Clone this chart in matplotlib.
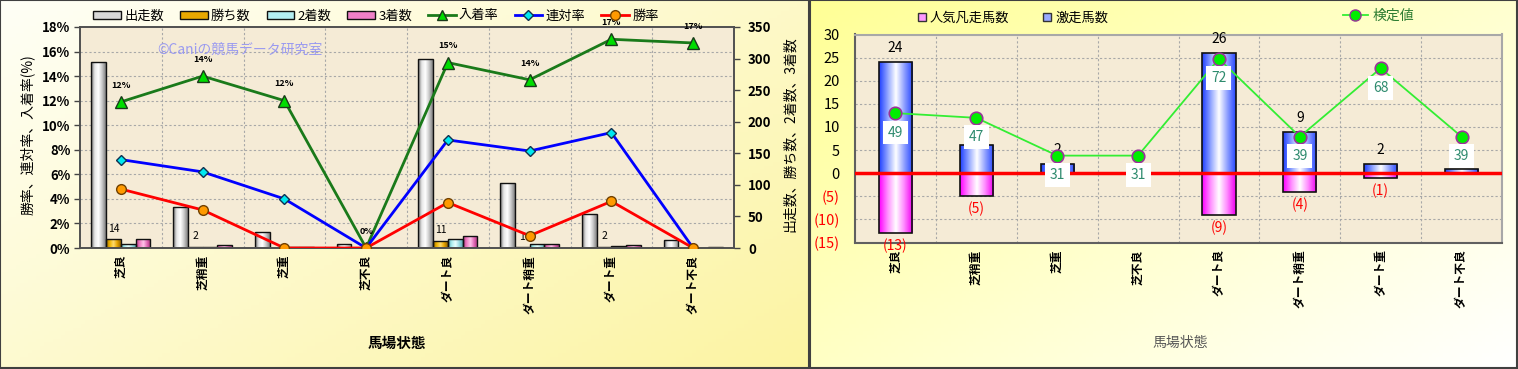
import numpy as np
import matplotlib
matplotlib.use('Agg')
import matplotlib.pyplot as plt
from matplotlib.colors import LinearSegmentedColormap
from matplotlib.patches import Patch
from matplotlib.lines import Line2D

plt.rcParams['font.family'] = ['Noto Sans CJK JP', 'DejaVu Sans']

# ---- data ----
categories = ['芝良', '芝稍重', '芝重', '芝不良', 'ダート良', 'ダート稍重', 'ダート重', 'ダート不良']
starts = [295, 65, 25, 6, 300, 103, 54, 12]
wins = [14, 2, 0, 0, 11, 1, 2, 0]
seconds = [7, 2, 1, 0, 15, 7, 3, 0]
thirds = [14, 5, 2, 0, 19, 6, 4, 2]
win_rate = [4.8, 3.1, 0.0, 0.0, 3.7, 1.0, 3.8, 0.0]
rentai_rate = [7.2, 6.2, 4.0, 0.0, 8.8, 7.9, 9.4, 0.0]
place_rate = [11.9, 14.0, 12.0, 0.0, 15.1, 13.7, 17.0, 16.7]

gekiso = [24, 6, 2, 0, 26, 9, 2, 1]          # 激走馬数
bonso = [-13, -5, 0, 0, -9, -4, -1, 0]       # 人気凡走馬数
kentei = [49, 47, 31, 31, 72, 39, 68, 39]    # 検定値

W, H = 1518, 369


def fx(px):
    return px / W


def fy(py):
    return 1 - py / H


def ax_rect(l, t, r, b):
    return [fx(l), fy(b), fx(r) - fx(l), fy(t) - fy(b)]


def panel_bg(l, r, c0, c1):
    bg = fig.add_axes(ax_rect(l, 0, r, H - 1), zorder=-10)
    yy, xx = np.mgrid[0:1:100j, 0:1:200j]
    t = xx * 0.55 + yy * 0.45
    cmap = LinearSegmentedColormap.from_list('bg', [c0, c1])
    bg.imshow(t, cmap=cmap, aspect='auto', extent=(0, 1, 0, 1), origin='upper')
    bg.set_xticks([])
    bg.set_yticks([])
    for s in bg.spines.values():
        s.set_color('#404040')
        s.set_linewidth(1.5)
    return bg


def shade_bars(ax, bars, cols):
    cmap = LinearSegmentedColormap.from_list('g', cols)
    grad = np.linspace(0, 1, 64).reshape(1, -1)
    for b in bars:
        x0, y0 = b.get_x(), b.get_y()
        w, h = b.get_width(), b.get_height()
        if h == 0:
            continue
        im = ax.imshow(grad, cmap=cmap, extent=(x0, x0 + w, y0, y0 + h),
                       aspect='auto', zorder=2.1)
        im.set_clip_path(b)


fig = plt.figure(figsize=(W / 100, H / 100), dpi=100)
panel_bg(0, 809, '#fffff6', '#fcf4a2')
panel_bg(810, 1517, '#ffff96', '#ffffff')

x = np.arange(len(categories))
grid_kw = dict(color='#a8a8a8', lw=0.8, ls=(0, (2, 2)), zorder=0.5)

# ================= left chart =================
axc = fig.add_axes(ax_rect(80, 27, 734, 248))
axc.set_facecolor('#f5ebd6')
axr = axc.twinx()
axc.yaxis.tick_right()
axr.yaxis.tick_left()

bw = 0.18
series = [(starts, ['#707070', '#e6e6e6', '#ffffff', '#c8c8c8', '#808080']),
          (wins, ['#a06c00', '#f0b400', '#ffdc70', '#e6a400', '#946400']),
          (seconds, ['#58aab4', '#aeeef0', '#eaffff', '#9cdce4', '#58a8b0']),
          (thirds, ['#b83888', '#f080c4', '#ffc4ea', '#e068b4', '#a8307c'])]
win_bars = None
for k, (vals, cols) in enumerate(series):
    off = (k - 1.5) * bw
    bars = axc.bar(x + off, vals, bw, color=cols[1], zorder=2)
    shade_bars(axc, bars, cols)
    axc.bar(x + off, vals, bw, fill=False, edgecolor='#111111', lw=1, zorder=2.2)
    if k == 1:
        win_bars = bars

for b, v in zip(win_bars, wins):
    if v:
        axc.annotate(str(v), (b.get_x() + b.get_width() / 2, v), xytext=(0, 4),
                     textcoords='offset points', ha='center', va='bottom', fontsize=7.5)

for r in range(2, 18, 2):
    axc.axhline(r * 350 / 18, **grid_kw)
for i in range(len(categories) - 1):
    axc.axvline(i + 0.5, **grid_kw)

axc.set_xlim(-0.5, len(categories) - 0.5)
axc.set_ylim(0, 350)
axc.set_yticks(range(0, 351, 50))
axc.set_yticklabels([str(v) for v in range(0, 351, 50)], fontsize=9.5, fontweight='bold')
axc.set_xticks(x)
axc.set_xticklabels(categories, rotation=90, fontsize=8.5, fontweight='bold', va='top')
axc.tick_params(axis='x', length=0, pad=5)
axc.tick_params(axis='y', length=4, width=1, color='#444444', pad=6)

axr.plot(x, place_rate, color='#1a7a1a', lw=2, marker='^', ms=8,
         mfc='#00dd00', mec='#1a3a1a', mew=1, zorder=3)
axr.plot(x, rentai_rate, color='#0000ff', lw=2, marker='D', ms=5.5,
         mfc='#00e8f0', mec='#103050', mew=1, zorder=4)
axr.plot(x, win_rate, color='#ff0000', lw=2, marker='o', ms=7,
         mfc='#ff9a00', mec='#704000', mew=1, zorder=5)
for i, v in enumerate(place_rate):
    axr.annotate(f'{round(v)}%', (i, v), xytext=(0, 12), textcoords='offset points',
                 ha='center', va='center', fontsize=6.5, fontweight='bold')
axr.set_ylim(0, 18)
axr.set_yticks(range(0, 19, 2))
axr.set_yticklabels([f'{v}%' for v in range(0, 19, 2)], fontsize=9.5, fontweight='bold')
axr.tick_params(axis='y', length=4, width=1, color='#444444', pad=3)
for a in (axc, axr):
    for s in a.spines.values():
        s.set_color('#505050')
        s.set_linewidth(1.2)

fig.text(fx(157), fy(50), '©Caniの競馬データ研究室', color='#9a9af0', fontsize=10,
         ha='left', va='center')
fig.text(fx(27), fy(135), '勝率、連対率、入着率(%)', rotation=90, fontsize=10,
         ha='center', va='center')
fig.text(fx(790), fy(134), '出走数、勝ち数、2着数、3着数', rotation=90, fontsize=10,
         ha='center', va='center')
fig.text(fx(397), fy(343), '馬場状態', fontsize=10.5, fontweight='bold',
         ha='center', va='center')

left_handles = [Patch(fc='#d8d8d8', ec='#111111'), Patch(fc='#e8a800', ec='#111111'),
                Patch(fc='#b4eef2', ec='#111111'), Patch(fc='#f080c8', ec='#111111'),
                Line2D([], [], color='#1a7a1a', lw=2, marker='^', ms=7, mfc='#00dd00', mec='#1a3a1a'),
                Line2D([], [], color='#0000ff', lw=2, marker='D', ms=5, mfc='#00e8f0', mec='#103050'),
                Line2D([], [], color='#ff0000', lw=2, marker='o', ms=7, mfc='#ff9a00', mec='#704000')]
left_labels = ['出走数', '勝ち数', '2着数', '3着数', '入着率', '連対率', '勝率']
fig.legend(left_handles, left_labels, loc='center', bbox_to_anchor=(fx(376), fy(16)),
           ncol=7, frameon=False, fontsize=9.5, handlelength=2.1, handleheight=0.55,
           handletextpad=0.25, columnspacing=1.2, borderpad=0)

# ================= right chart =================
axR = fig.add_axes(ax_rect(855, 34.5, 1502, 242.5))
axR.set_facecolor('#f5ebd6')
bw2 = 0.41
b_pos = axR.bar(x, gekiso, bw2, color='#8899ff', zorder=2)
shade_bars(axR, b_pos, ['#2040ff', '#90a4ff', '#ffffff', '#90a0ff', '#2848ff'])
axR.bar(x, gekiso, bw2, fill=False, edgecolor='#111111', lw=1.2, zorder=2.2)
b_neg = axR.bar(x, bonso, bw2, color='#ff88ff', zorder=2)
shade_bars(axR, b_neg, ['#ff00ff', '#ff90ff', '#ffffff', '#ff88ff', '#f000f0'])
axR.bar(x, bonso, bw2, fill=False, edgecolor='#111111', lw=1.2, zorder=2.2)

for i, v in enumerate(gekiso):
    if v:
        axR.annotate(str(v), (i, v), xytext=(0, 5), textcoords='offset points',
                     ha='center', va='bottom', fontsize=10, zorder=3)
for i, v in enumerate(bonso):
    if v:
        axR.annotate(f'({-v})', (i, v), xytext=(0, -4), textcoords='offset points',
                     ha='center', va='top', fontsize=10, color='#ff0000', zorder=3)

axR.axhline(0, color='#ff0000', lw=2.5, zorder=4)
for v in range(-10, 30, 5):
    if v != 0:
        axR.axhline(v, **grid_kw)
for i in range(len(categories) - 1):
    axR.axvline(i + 0.5, **grid_kw)

axR.set_xlim(-0.5, len(categories) - 0.5)
axR.set_ylim(-15, 30)
yt = list(range(-15, 31, 5))
axR.set_yticks(yt)
axR.set_yticklabels([f'({-v})' if v < 0 else str(v) for v in yt], fontsize=10.5)
for lab, v in zip(axR.get_yticklabels(), yt):
    if v < 0:
        lab.set_color('#ff0000')
axR.set_xticks(x)
axR.set_xticklabels(categories, rotation=90, fontsize=8.5, fontweight='bold', va='top')
axR.tick_params(axis='x', length=0, pad=5)
axR.tick_params(axis='y', length=0, pad=11)
for side, s in axR.spines.items():
    s.set_linewidth(1.5)
    s.set_color('#606060' if side in ('left', 'bottom') else '#a8a8a8')

axK = axR.twinx()
axK.set_ylim(-5.8, 82.3)
axK.set_yticks([])
for s in axK.spines.values():
    s.set_visible(False)
axK.plot(x, kentei, color='#33ee33', lw=1.3, marker='o', ms=9,
         mfc='#00ee00', mec='#993399', mew=1.2, zorder=5)
for i, v in enumerate(kentei):
    axK.annotate(str(v), (i, v), xytext=(0, -14), textcoords='offset points',
                 ha='center', va='center', fontsize=10, color='#2e8b6e',
                 bbox=dict(boxstyle='square,pad=0.35', fc='white', ec='none'), zorder=6)

fig.text(fx(1180), fy(343), '馬場状態', color='#555555', fontsize=10,
         ha='center', va='center')

r_handles = [Line2D([], [], ls='none', marker='s', ms=6, mfc='#ff99ff', mec='#333333'),
             Line2D([], [], ls='none', marker='s', ms=6, mfc='#99aaff', mec='#333333')]
fig.legend(r_handles, ['人気凡走馬数', '激走馬数'], loc='center left',
           bbox_to_anchor=(fx(911), fy(18)), ncol=2, frameon=False, fontsize=9.5,
           handlelength=0.6, handletextpad=0.3, columnspacing=2.6, borderpad=0)
leg = fig.legend([Line2D([], [], color='#33ee33', lw=1.3, marker='o', ms=8,
                         mfc='#00ee00', mec='#993399')], ['検定値'],
                 loc='center left', bbox_to_anchor=(fx(1336), fy(16)), frameon=False,
                 fontsize=10, handlelength=1.8, handletextpad=0.3, borderpad=0)
leg.get_texts()[0].set_color('#2e7d32')

fig.savefig('out.png', dpi=100)
